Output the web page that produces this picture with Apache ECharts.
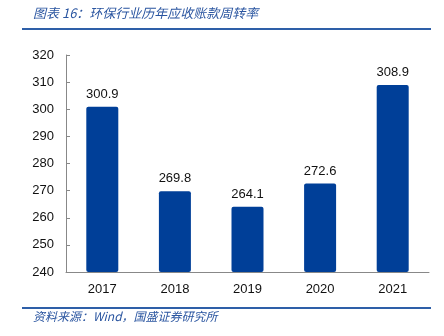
<!DOCTYPE html>
<html><head><meta charset="utf-8">
<script src="https://cdn.jsdelivr.net/npm/echarts@6/dist/echarts.min.js"></script>
<style>html,body{margin:0;padding:0;background:#fff}#c{width:444px;height:336px}</style>
</head><body><div id="c"></div>
<script>
const titleText = '图表 16：环保行业历年应收账款周转率';
const sourceText = '资料来源：Wind，国盛证券研究所';
const years = ['2017', '2018', '2019', '2020', '2021'];
const turnover = [300.9, 269.8, 264.1, 272.6, 308.9];
const yMin = 240, yMax = 320, yStep = 10;

const chart = echarts.init(document.getElementById('c'), null, {renderer: 'canvas'});
const numFont = 'Liberation Sans';
chart.setOption({
  animation: false,
  grid: {left: 66, right: 15, top: 55, bottom: 64},
  graphic: [
    {type: 'text', left: 33, top: 7, style: {text: titleText, font: 'italic 13px "Noto Sans CJK SC"', fill: '#2A55A0'}},
    {type: 'line', shape: {x1: 22, y1: 29, x2: 431, y2: 29}, style: {stroke: '#2E5FA8', lineWidth: 2}},
    {type: 'line', shape: {x1: 22, y1: 308, x2: 431, y2: 308}, style: {stroke: '#2E5FA8', lineWidth: 2}},
    {type: 'text', left: 33, top: 310, style: {text: sourceText, font: 'italic 12px "Noto Sans CJK SC"', fill: '#2A55A0'}}
  ],
  xAxis: {
    type: 'category', data: years,
    axisLine: {lineStyle: {color: '#888', width: 1}},
    axisTick: {inside: true, length: 5, lineStyle: {color: '#888'}},
    axisLabel: {color: '#111', fontFamily: numFont, fontSize: 13, margin: 11}
  },
  yAxis: {
    type: 'value', min: yMin, max: yMax, interval: yStep,
    splitLine: {show: false},
    axisLine: {show: true, lineStyle: {color: '#888', width: 1}},
    axisTick: {show: true, inside: true, length: 4, lineStyle: {color: '#888'}},
    axisLabel: {color: '#111', fontFamily: numFont, fontSize: 13, margin: 12}
  },
  series: [{
    type: 'bar', data: turnover, barWidth: 32,
    itemStyle: {color: '#003F98', borderRadius: 2},
    label: {show: true, position: 'top', distance: 6, color: '#111', fontFamily: numFont, fontSize: 13,
      formatter: p => p.value.toFixed(1)}
  }]
});
</script></body></html>
